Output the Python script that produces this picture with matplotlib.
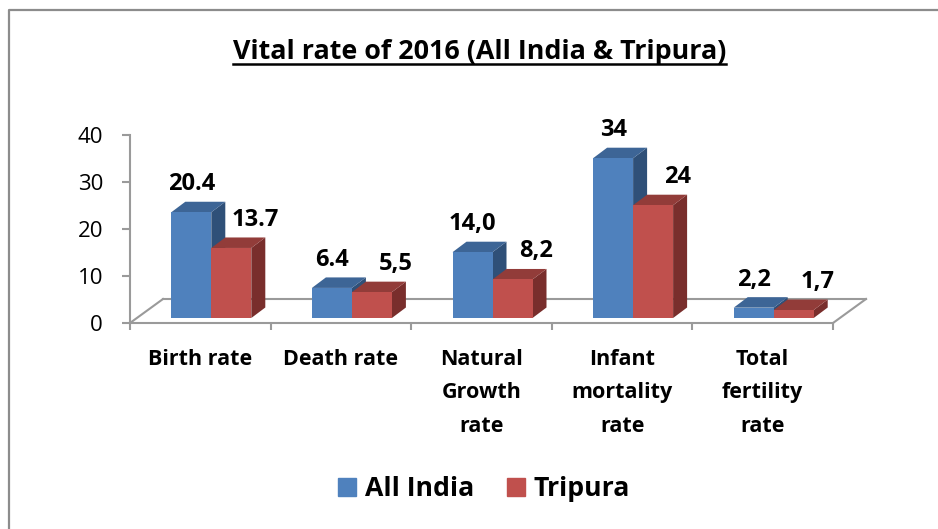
import matplotlib
matplotlib.use("Agg")
import matplotlib.pyplot as plt
from matplotlib.patches import Polygon
from matplotlib.lines import Line2D

plt.rcParams['font.family'] = ['Open Sans', 'DejaVu Sans']

# ---- data ----
title = "Vital rate of 2016 (All India & Tripura)"
categories = ["Birth rate", "Death rate", "Natural\nGrowth\nrate",
              "Infant\nmortality\nrate", "Total\nfertility\nrate"]
series_names = ["All India", "Tripura"]
all_india = [22.5, 6.4, 14.0, 34, 2.2]
tripura = [14.9, 5.5, 8.2, 24, 1.7]
all_india_labels = ["20.4", "6.4", "14,0", "34", "2,2"]
tripura_labels = ["13.7", "5,5", "8,2", "24", "1,7"]
y_ticks = [0, 10, 20, 30, 40]

# ---- style ----
W, H, DPI = 938, 529, 100
front = ["#4F81BD", "#C0504D"]
top_c = ["#3D6596", "#923C39"]
side_c = ["#2F5078", "#792E2C"]
grey = "#9A9A9A"

fig = plt.figure(figsize=(W / DPI, H / DPI), dpi=DPI)
ax = fig.add_axes([130 / W, (H - 323) / H, 703 / W, 188 / H])
ax.set_xlim(-0.5, len(categories) - 0.5)
ax.set_ylim(0, 40)

px_x = 703 / len(categories)      # pixels per x data unit
px_y = 188 / 40                   # pixels per y data unit
bw = 40 / px_x                    # bar width
shift = 11 / px_x                 # group shift to the right
base = 5 / px_y                   # bars start slightly behind front edge
ddx, ddy = 14 / px_x, 10.5 / px_y  # bar depth
fdx, fdy = 33 / px_x, 24 / px_y    # floor depth

# floor lines
x0f, x1f = -0.5, len(categories) - 0.5
for xs_, ys_ in [([x0f, x0f + fdx], [0, fdy]),
                 ([x0f + fdx, x1f + fdx], [fdy, fdy]),
                 ([x1f, x1f + fdx], [0, fdy])]:
    ax.add_line(Line2D(xs_, ys_, color=grey, lw=1.5, zorder=1, clip_on=False))

xs = list(range(len(categories)))
for i in xs:
    for s, (vals, labs) in enumerate([(all_india, all_india_labels),
                                      (tripura, tripura_labels)]):
        xc = i + shift + (s - 0.5) * bw
        bar = ax.bar([xc], [vals[i]], width=bw, bottom=base, color=front[s],
                     zorder=3 + i * 10 + s * 3 + 2, clip_on=False)[0]
        bx0 = bar.get_x()
        bx1 = bx0 + bar.get_width()
        yb = bar.get_y()
        yt = yb + bar.get_height()
        side = Polygon([(bx1, yb), (bx1, yt), (bx1 + ddx, yt + ddy), (bx1 + ddx, yb + ddy)],
                       closed=True, fc=side_c[s], ec='none', zorder=3 + i * 10 + s * 3,
                       clip_on=False)
        topf = Polygon([(bx0, yt), (bx1, yt), (bx1 + ddx, yt + ddy), (bx0 + ddx, yt + ddy)],
                       closed=True, fc=top_c[s], ec='none', zorder=3 + i * 10 + s * 3 + 1,
                       clip_on=False)
        ax.add_patch(side)
        ax.add_patch(topf)
        offx = 0 if s == 0 else 24 * 72 / DPI
        ax.annotate(labs[i], xy=(xc, yt), xytext=(offx, 28 * 72 / DPI),
                    textcoords='offset points', ha='center', va='center',
                    fontsize=17, fontweight='bold', color='black',
                    annotation_clip=False, zorder=100)

# axes styling
for sp in ['top', 'right', 'bottom']:
    ax.spines[sp].set_visible(False)
ax.spines['left'].set_color(grey)
ax.spines['left'].set_linewidth(1.5)
ax.add_line(Line2D([x0f, x1f], [0, 0], color=grey, lw=1.5, zorder=2, clip_on=False))

ax.set_yticks(y_ticks)
ax.set_yticklabels([str(v) for v in y_ticks])
ax.tick_params(axis='y', length=8 * 72 / DPI, width=1.5, color=grey,
               pad=19 * 72 / DPI, labelsize=16, labelcolor='black')

ax.set_xticks(xs)
ax.set_xticklabels(categories, fontsize=15.5, fontweight='bold')
ax.set_xticks([x - 0.5 for x in xs] + [x1f], minor=True)
ax.tick_params(axis='x', which='major', length=0, pad=26 * 72 / DPI)
ax.tick_params(axis='x', which='minor', length=7 * 72 / DPI, width=1.5, color=grey)
for lab in ax.get_xticklabels():
    lab.set_linespacing(1.78)

# title
t = fig.text(479.5 / W, 1 - 59 / H, title, ha='center', va='baseline',
             fontsize=19.4, fontweight='bold')

# legend
handles = [Line2D([], [], marker='s', ls='none', markersize=18 * 72 / DPI,
                  markerfacecolor=front[k], markeredgecolor=front[k])
           for k in range(2)]
fig.legend(handles, series_names, loc='center', bbox_to_anchor=(484 / W, 1 - 489 / H),
           ncol=2, frameon=False, prop={'size': 19.2, 'weight': 'bold'},
           handlelength=0.68, handletextpad=0.32, columnspacing=1.25)

# chart frame (top and left edges visible)
fig.add_artist(Line2D([9 / W, 9 / W, 1], [0, 1 - 10 / H, 1 - 10 / H],
                      transform=fig.transFigure, color="#8C8C8C", lw=1.6))

# title underline
fig.canvas.draw()
bb = t.get_window_extent()
uy = (H - 63.5) / H
fig.add_artist(Line2D([bb.x0 / W, bb.x1 / W], [uy, uy], transform=fig.transFigure,
                      color='black', lw=1.8))

fig.savefig("out.png", dpi=DPI)
